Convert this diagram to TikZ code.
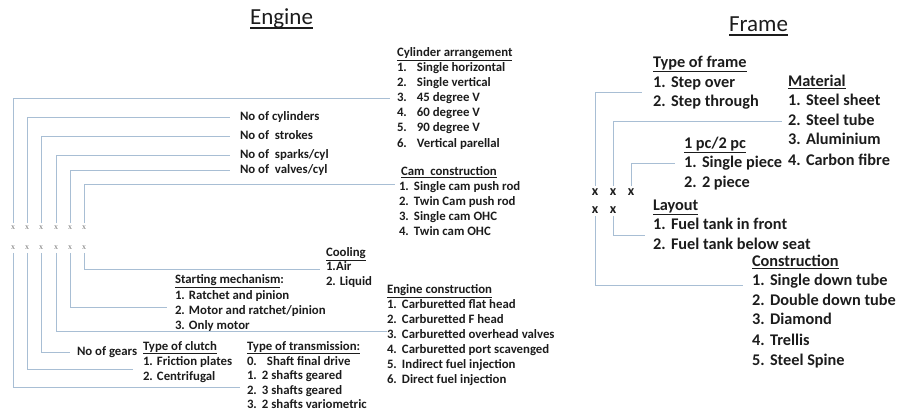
\documentclass[tikz,border=0pt]{standalone}
\usepackage{fontspec}
\setmainfont{Carlito}
\newfontfamily\xmarkfont{Liberation Serif}
\usetikzlibrary{calc}
\definecolor{linkline}{RGB}{168,190,212}
\definecolor{ink}{RGB}{28,28,28}
% fixed-width list number
\newcommand\itm[2]{\makebox[#1][l]{#2}}
% heavy underline for the two headings
\newcommand\headul[1]{\setbox0\hbox{#1}\rlap{\raisebox{-3.6pt}{\rule{\wd0}{1.4pt}}}\box0}
\begin{document}
\begin{tikzpicture}[x=1pt,y=-1pt,
  every node/.style={inner sep=0pt, outer sep=0pt, text=ink},
  eng/.style={anchor=west, font=\bfseries\fontsize{12.8}{15}\selectfont, text height=9pt, text depth=2.5pt},
  frm/.style={anchor=west, font=\bfseries\fontsize{16.3}{19}\selectfont, text height=11.5pt, text depth=3pt},
  title/.style={anchor=base, font=\fontsize{23}{27}\selectfont},
  emark/.style={font=\xmarkfont\fontsize{8}{9}\selectfont, text=black!55},
  fmark/.style={font=\bfseries\fontsize{14}{15}\selectfont},
  link/.style={draw=linkline, line width=0.9pt, shorten <=3pt, shorten >=7pt},
]
\useasboundingbox (0,0) rectangle (899,417);

% ---------------- Engine ----------------
\node[title] (etitle) at (281.5,25) {\headul{Engine}};

% code positions
\foreach \i/\x in {1/13,2/27,3/41,4/56,5/70,6/84}{
  \node[emark] (ea\i) at (\x,228) {x};
  \node[emark] (eb\i) at (\x,248) {x};
}

% cylinder arrangement
\node[eng] (cylh) at (397,53) {\underline{Cylinder arrangement}};
\node[eng] (cyl1) at (397,68) {\itm{20pt}{1.}Single horizontal};
\node[eng] (cyl2) at (397,83) {\itm{20pt}{2.}Single vertical};
\node[eng] (cyl3) at (397,98) {\itm{20pt}{3.}45 degree V};
\node[eng] (cyl4) at (397,113) {\itm{20pt}{4.}60 degree V};
\node[eng] (cyl5) at (397,128) {\itm{20pt}{5.}90 degree V};
\node[eng] (cyl6) at (397,144) {\itm{20pt}{6.}Vertical parellal};

% counts
\node[eng] (nocyl) at (240,117) {No of cylinders};
\node[eng] (nostr) at (240,136) {No of\ \ strokes};
\node[eng] (nospk) at (240,155) {No of\ \ sparks/cyl};
\node[eng] (noval) at (240,170) {No of\ \ valves/cyl};

% cam construction
\node[eng] (camh) at (401,172) {\underline{Cam\ \ construction}};
\node[eng] (cam1) at (399,187) {\itm{15pt}{1.}Single cam push rod};
\node[eng] (cam2) at (399,202) {\itm{15pt}{2.}Twin Cam push rod};
\node[eng] (cam3) at (399,217) {\itm{15pt}{3.}Single cam OHC};
\node[eng] (cam4) at (399,232) {\itm{15pt}{4.}Twin cam OHC};

% cooling
\node[eng] (coolh) at (326,253) {\underline{Cooling}};
\node[eng] (cool1) at (326,267) {1.Air};
\node[eng] (cool2) at (326,282) {2. Liquid};

% engine construction
\node[eng] (ech) at (387,290) {\underline{Engine construction}};
\node[eng] (ec1) at (387,305) {\itm{15pt}{1.}Carburetted flat head};
\node[eng] (ec2) at (387,320) {\itm{15pt}{2.}Carburetted F head};
\node[eng] (ec3) at (387,335) {\itm{15pt}{3.}Carburetted overhead valves};
\node[eng] (ec4) at (387,350) {\itm{15pt}{4.}Carburetted port scavenged};
\node[eng] (ec5) at (387,365) {\itm{15pt}{5.}Indirect fuel injection};
\node[eng] (ec6) at (387,380) {\itm{15pt}{6.}Direct fuel injection};

% starting mechanism
\node[eng] (sth) at (175,280) {\underline{Starting mechanism}:};
\node[eng] (st1) at (175,296) {\itm{14pt}{1.}Ratchet and pinion};
\node[eng] (st2) at (175,311) {\itm{14pt}{2.}Motor and ratchet/pinion};
\node[eng] (st3) at (175,326) {\itm{14pt}{3.}Only motor};

% gears and clutch
\node[eng] (gears) at (77,352) {No of gears};
\node[eng] (clh) at (143,347) {\underline{Type of clutch}};
\node[eng] (cl1) at (143,362) {\itm{14pt}{1.}Friction plates};
\node[eng] (cl2) at (143,377) {\itm{14pt}{2.}Centrifugal};

% transmission
\node[eng] (trh) at (247,347) {\underline{Type of transmission:}};
\node[eng] (tr0) at (247,362) {\itm{20pt}{0.}Shaft final drive};
\node[eng] (tr1) at (247,376) {\itm{15pt}{1.}2 shafts geared};
\node[eng] (tr2) at (247,391) {\itm{15pt}{2.}3 shafts geared};
\node[eng] (tr3) at (247,405) {\itm{15pt}{3.}2 shafts variometric};

% engine connectors
\draw[link] (ea1.north) |- (cyl3.west);
\draw[link, shorten >=10pt] (ea2.north) |- (nocyl.west);
\draw[link, shorten >=10pt] (ea3.north) |- (nostr.west);
\draw[link, shorten >=10pt] (ea4.north) |- (nospk.west);
\draw[link, shorten >=10pt] (ea5.north) |- (noval.west);
\draw[link, shorten >=4pt] (ea6.north) |- ([yshift=3pt]cam1.west);

\draw[link] (eb1.south) |- ([yshift=4pt]tr2.west);
\draw[link, shorten >=10pt] (eb2.south) |- ($(cl1.west)!0.5!(cl2.west)$);
\draw[link] (eb3.south) |- (gears.west);
\draw[link, shorten >=0pt] (eb4.south) |- ([yshift=4pt]ec3.west);
\draw[link, shorten >=8pt] (eb5.south) |- ([yshift=4pt]st2.west);
\draw[link, shorten >=6pt] (eb6.south) |- ([yshift=-2pt]cool1.west);

% ---------------- Frame ----------------
\node[title] (ftitle) at (758.5,32) {\headul{Frame}};

\node[fmark] (fa1) at (595,192) {x};
\node[fmark] (fa2) at (613,192) {x};
\node[fmark] (fa3) at (631,192) {x};
\node[fmark] (fb1) at (595,210) {x};
\node[fmark] (fb2) at (613,210) {x};

\node[frm] (tfh) at (653,63) {\underline{Type of frame}};
\node[frm] (tf1) at (653,83) {\itm{18pt}{1.}Step over};
\node[frm] (tf2) at (653,102) {\itm{18pt}{2.}Step through};

\node[frm] (math) at (788,82) {\underline{Material}};
\node[frm] (mat1) at (788,101) {\itm{18pt}{1.}Steel sheet};
\node[frm] (mat2) at (788,121) {\itm{18pt}{2.}Steel tube};
\node[frm] (mat3) at (788,140) {\itm{18pt}{3.}Aluminium};
\node[frm] (mat4) at (788,161) {\itm{18pt}{4.}Carbon fibre};

\node[frm] (pch) at (684,144) {\underline{1 pc/2 pc}};
\node[frm] (pc1) at (684,163) {\itm{18pt}{1.}Single piece};
\node[frm] (pc2) at (684,183) {\itm{18pt}{2.}2 piece};

\node[frm] (layh) at (653,206) {\underline{Layout}};
\node[frm] (lay1) at (653,225) {\itm{18pt}{1.}Fuel tank in front};
\node[frm] (lay2) at (653,245) {\itm{18pt}{2.}Fuel tank below seat};

\node[frm] (conh) at (752,262) {\underline{Construction}};
\node[frm] (con1) at (752,281) {\itm{18pt}{1.}Single down tube};
\node[frm] (con2) at (752,301) {\itm{18pt}{2.}Double down tube};
\node[frm] (con3) at (752,320) {\itm{18pt}{3.}Diamond};
\node[frm] (con4) at (752,341) {\itm{18pt}{4.}Trellis};
\node[frm] (con5) at (752,361) {\itm{18pt}{5.}Steel Spine};

% frame connectors
\draw[link, shorten >=11pt] (fa1.north) |- ($(tf1.west)!0.5!(tf2.west)$);
\draw[link, shorten >=6pt] (fa2.north) |- (mat2.west);
\draw[link, shorten >=9pt] (fa3.north) |- (pc1.west);
\draw[link, shorten >=9pt] (fb1.south) |- ([yshift=-4pt]con1.west);
\draw[link, shorten >=8pt] (fb2.south) |- ($(lay1.west)!0.5!(lay2.west)$);
\end{tikzpicture}
\end{document}
